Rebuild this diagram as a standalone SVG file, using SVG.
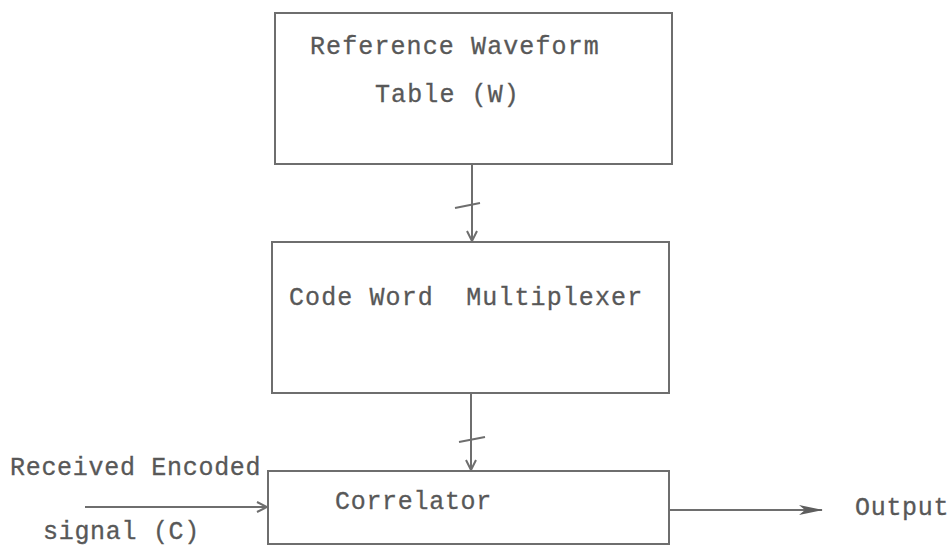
<svg xmlns="http://www.w3.org/2000/svg" width="952" height="548" viewBox="0 0 952 548">
<defs>
<style>
.box{fill:none;stroke:#6e6e6e;stroke-width:2}
.ln{fill:none;stroke:#6e6e6e;stroke-width:2}
.t{font-family:"Liberation Mono","DejaVu Sans Mono",monospace;font-size:25px;letter-spacing:0.7px;fill:#585858;stroke:#585858;stroke-width:0.3;white-space:pre}
.w{letter-spacing:1.1px}
</style>
<marker id="open" viewBox="0 0 12 12" refX="11" refY="6" markerWidth="12" markerHeight="12" markerUnits="userSpaceOnUse" orient="auto">
<path d="M1,1 L11,6 L1,11" fill="none" stroke="#6e6e6e" stroke-width="2"/>
</marker>
<marker id="fill" viewBox="0 0 24 10" refX="23" refY="5" markerWidth="24" markerHeight="10" markerUnits="userSpaceOnUse" orient="auto">
<path d="M0,0 L24,5 L0,10 L6,5 Z" fill="#5e5e5e"/>
</marker>
</defs>
<rect width="952" height="548" fill="#ffffff"/>
<g id="table">
<rect class="box" x="275" y="13" width="397" height="151"/>
<text class="t w" x="310" y="54">Reference Waveform</text>
<text class="t w" x="375" y="102">Table (W)</text>
</g>
<g id="multiplexer">
<rect class="box" x="272" y="242" width="397" height="151"/>
<text class="t w" x="289" y="305" xml:space="preserve">Code Word  Multiplexer</text>
</g>
<g id="correlator">
<rect class="box" x="268" y="471" width="401" height="73"/>
<text class="t" x="335" y="509">Correlator</text>
</g>
<g id="input">
<text class="t" x="10" y="475">Received Encoded</text>
<text class="t" x="43" y="539">signal (C)</text>
</g>
<g id="output">
<text class="t" x="855" y="515">Output</text>
</g>
<g id="connectors">
<line class="ln" x1="472" y1="164" x2="472" y2="241" marker-end="url(#open)"/>
<line class="ln" x1="455" y1="208" x2="480" y2="203"/>
<line class="ln" x1="471" y1="393" x2="471" y2="470" marker-end="url(#open)"/>
<line class="ln" x1="459" y1="442" x2="485" y2="437"/>
<line class="ln" x1="85" y1="507" x2="267" y2="507" marker-end="url(#open)"/>
<line class="ln" x1="669" y1="510" x2="822" y2="510" marker-end="url(#fill)"/>
</g>
</svg>
